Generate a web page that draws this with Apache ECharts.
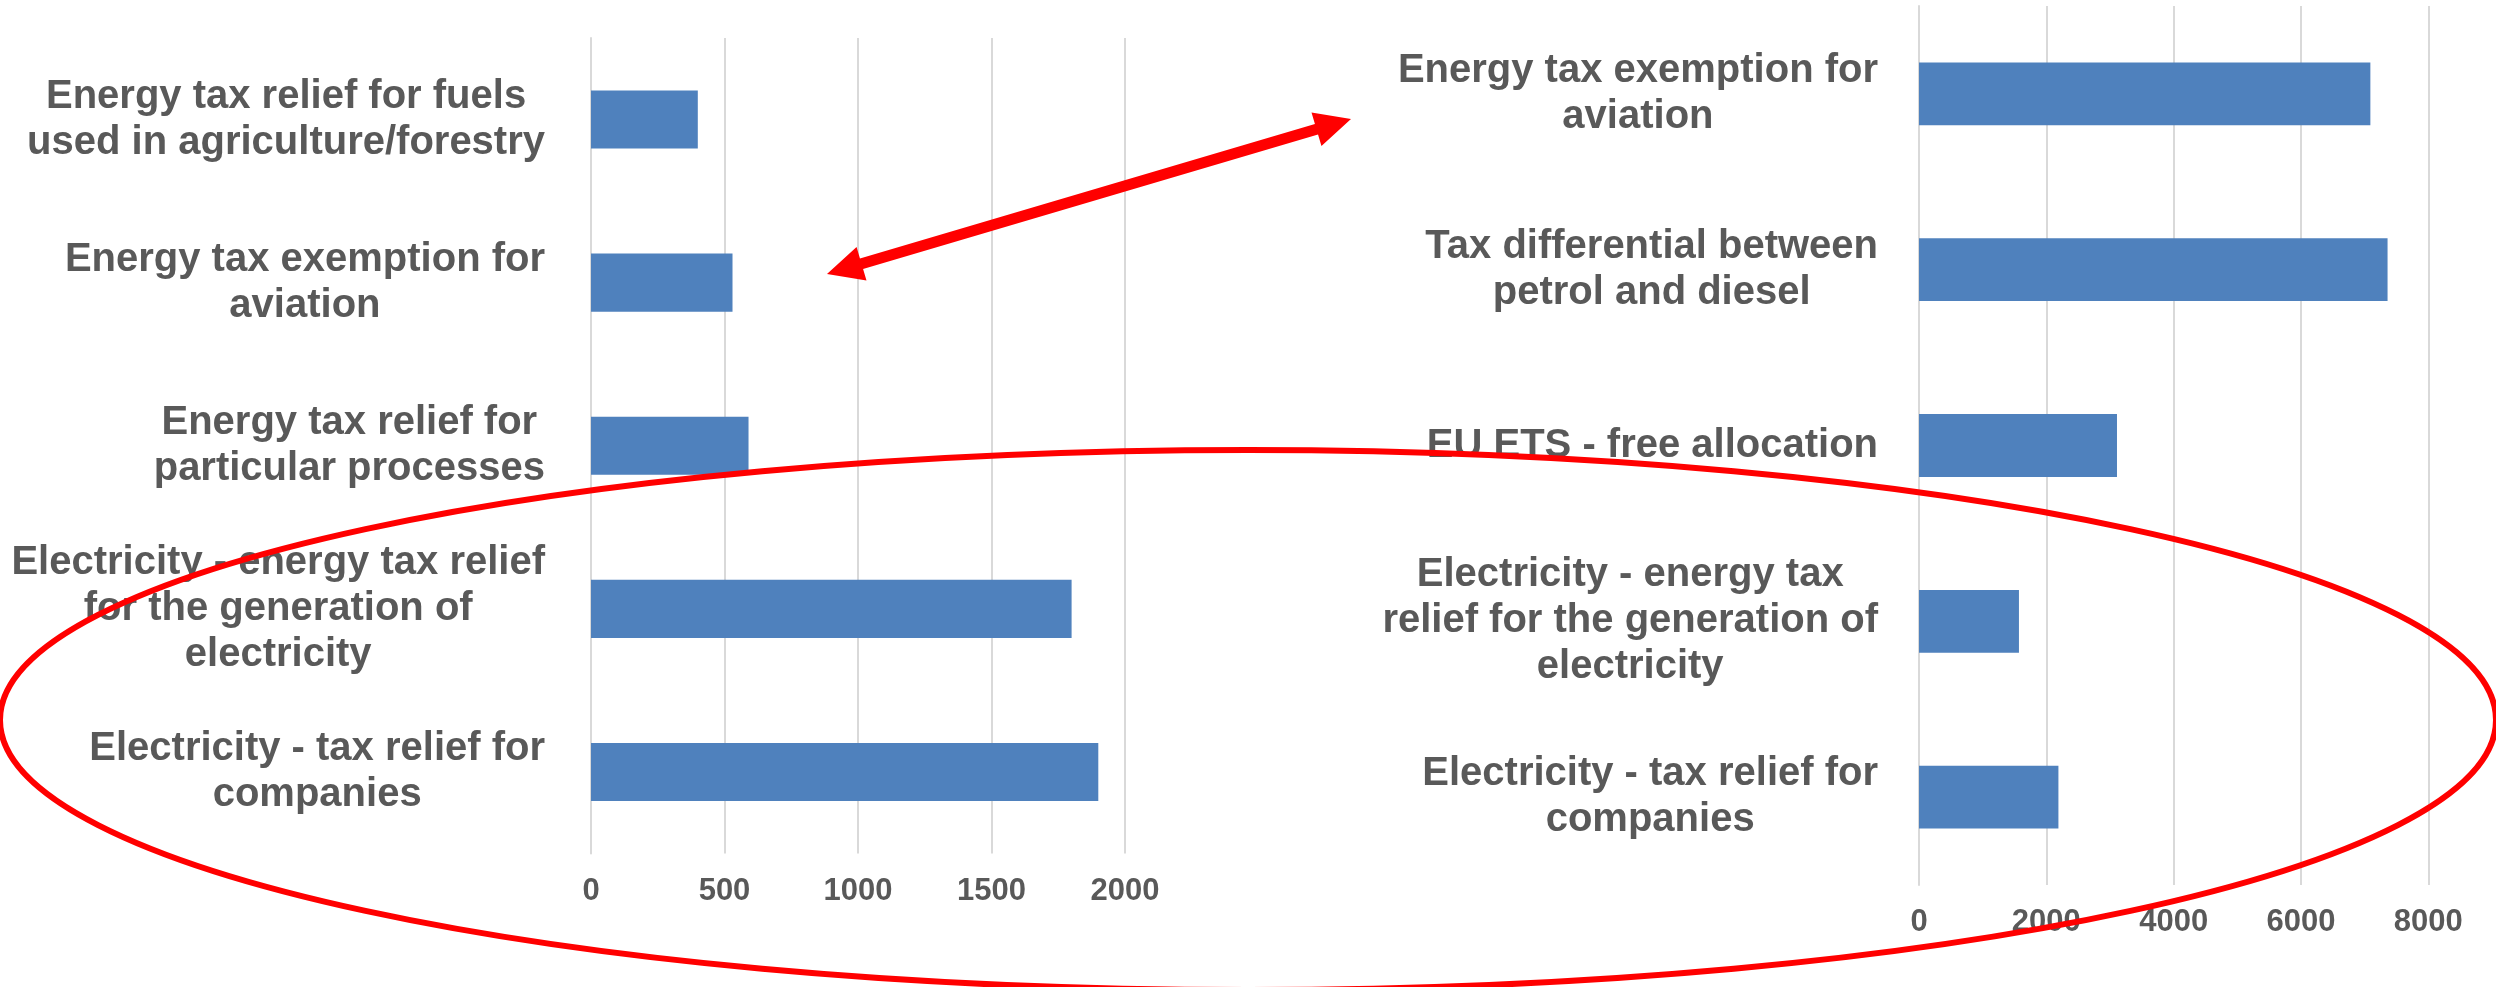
<!DOCTYPE html>
<html>
<head>
<meta charset="utf-8">
<script src="https://cdn.jsdelivr.net/npm/echarts@6/dist/echarts.min.js"></script>
<style>
  html, body { margin: 0; padding: 0; background: #ffffff; }
  #chart { width: 2496px; height: 987px; }
</style>
</head>
<body>
<div id="chart"></div>
<script>
// Subsidy measures, left panel (top to bottom)
const leftCategories = [
  'Energy tax relief for fuels\nused in agriculture/forestry',
  'Energy tax exemption for\naviation',
  'Energy tax relief for\nparticular processes',
  'Electricity - energy tax relief\nfor the generation of\nelectricity',
  'Electricity - tax relief for\ncompanies'
];
const leftValues = [400, 530, 590, 1800, 1900];

// Subsidy measures, right panel (top to bottom)
const rightCategories = [
  'Energy tax exemption for\naviation',
  'Tax differential between\npetrol and diesel',
  'EU ETS - free allocation',
  'Electricity - energy tax\nrelief for the generation of\nelectricity',
  'Electricity - tax relief for\ncompanies'
];
const rightValues = [7090, 7360, 3110, 1570, 2190];

// Value-axis tick settings
const leftTicks = { min: 0, max: 2000, interval: 500 };
const rightTicks = { min: 0, max: 8000, interval: 2000 };

const TEXT = '#595959';
const GRID_LINE = '#D9D9D9';
const BAR = '#4F81BD';
const RED = '#FF0000';
const FONT = 'Liberation Sans, Arial, sans-serif';

function centeredLines(value) {
  return value.split('\n').map(function (l) { return '{c|' + l + '}'; }).join('\n');
}

function categoryLabel(margin) {
  return {
    show: true,
    margin: margin,
    align: 'right',
    formatter: centeredLines,
    rich: {
      c: {
        align: 'center',
        fontFamily: FONT,
        fontWeight: 'bold',
        fontSize: 40,
        lineHeight: 46,
        color: TEXT
      }
    }
  };
}

function valueAxis(gridIndex, ticks) {
  return {
    type: 'value',
    gridIndex: gridIndex,
    min: ticks.min,
    max: ticks.max,
    interval: ticks.interval,
    axisLine: { show: false },
    axisTick: { show: false },
    splitLine: { show: true, lineStyle: { color: GRID_LINE, width: 2 } },
    axisLabel: {
      margin: 22,
      formatter: function (v) { return String(v); },
      fontFamily: FONT,
      fontWeight: 'bold',
      fontSize: 31,
      color: TEXT
    }
  };
}

function categoryAxis(gridIndex, data, margin) {
  return {
    type: 'category',
    gridIndex: gridIndex,
    inverse: true,
    data: data,
    axisLine: { show: true, lineStyle: { color: GRID_LINE, width: 2 } },
    axisTick: { show: false },
    splitLine: { show: false },
    axisLabel: categoryLabel(margin)
  };
}

// Double-headed block arrow between two points
function arrowPoints(x1, y1, x2, y2, shaft, headLen, headHalf) {
  const dx = x2 - x1, dy = y2 - y1, len = Math.hypot(dx, dy);
  const ux = dx / len, uy = dy / len, nx = -uy, ny = ux;
  const h = shaft / 2;
  const p = function (bx, by, a, n) { return [bx + ux * a + nx * n, by + uy * a + ny * n]; };
  return [
    [x1, y1],
    p(x1, y1, headLen, headHalf),
    p(x1, y1, headLen, h),
    p(x2, y2, -headLen, h),
    p(x2, y2, -headLen, headHalf),
    [x2, y2],
    p(x2, y2, -headLen, -headHalf),
    p(x2, y2, -headLen, -h),
    p(x1, y1, headLen, -h),
    p(x1, y1, headLen, -headHalf)
  ];
}

const chart = echarts.init(document.getElementById('chart'), null, { renderer: 'canvas' });

chart.setOption({
  backgroundColor: '#ffffff',
  animation: false,
  grid: [
    { left: 591, top: 38, width: 534, height: 815.5, containLabel: false },
    { left: 1919, top: 6, width: 509.3, height: 879, containLabel: false }
  ],
  xAxis: [valueAxis(0, leftTicks), valueAxis(1, rightTicks)],
  yAxis: [categoryAxis(0, leftCategories, 46), categoryAxis(1, rightCategories, 41)],
  series: [
    {
      type: 'bar',
      xAxisIndex: 0,
      yAxisIndex: 0,
      data: leftValues,
      barCategoryGap: '64.4%',
      itemStyle: { color: BAR }
    },
    {
      type: 'bar',
      xAxisIndex: 1,
      yAxisIndex: 1,
      data: rightValues,
      barCategoryGap: '64.3%',
      itemStyle: { color: BAR }
    }
  ],
  graphic: [
    {
      type: 'polygon',
      z: 100,
      shape: { points: arrowPoints(827, 274, 1351, 119, 11, 36, 17.5) },
      style: { fill: RED }
    },
    {
      type: 'ellipse',
      z: 100,
      shape: { cx: 1248, cy: 720, rx: 1248, ry: 270 },
      style: { fill: 'none', stroke: RED, lineWidth: 6 }
    }
  ]
});
</script>
</body>
</html>
